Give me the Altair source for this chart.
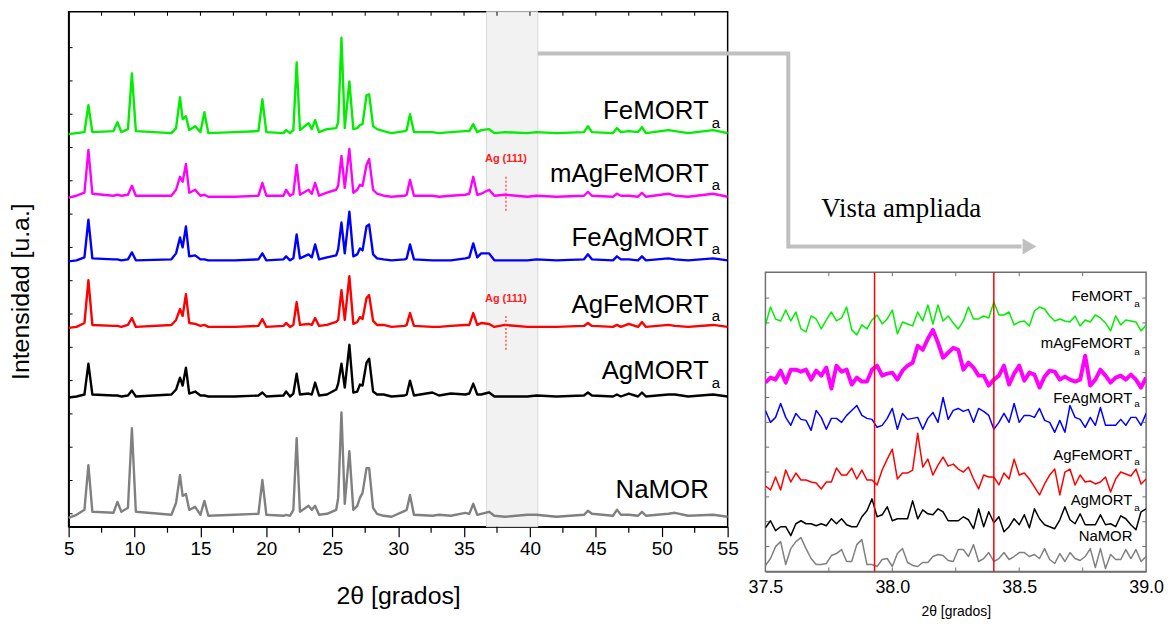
import altair as alt
import pandas as pd

FONT = "Liberation Sans"
SERIF = "Liberation Serif"

# ---------------- main panel data (2theta key points, heights above each trace's offset) ----
X_MAIN = [5.0, 5.6, 6.2, 6.5, 6.8, 8.4, 8.7, 9.0, 9.5, 9.8,
          10.1, 12.8, 13.15, 13.45, 13.65, 13.9, 14.15, 14.6, 15.0, 15.3,
          15.6, 17.6, 19.4, 19.7, 20.0, 21.3, 21.5, 21.8, 22.05, 22.3,
          22.55, 23.2, 23.45, 23.7, 24.0, 24.6, 25.3, 25.45, 25.7, 25.95,
          26.3, 26.6, 26.9, 27.1, 27.3, 27.6, 27.8, 28.1, 28.4, 28.9,
          29.5, 30.5, 30.65, 30.9, 31.2, 32.6, 33.1, 34.0, 35.1, 35.4,
          35.7, 36.0, 36.3, 36.9, 37.3, 38.1, 39.8, 40.5, 42.0, 44.1,
          44.4, 44.7, 46.3, 46.6, 46.9, 47.5, 48.2, 48.5, 48.8, 50.5,
          51.0, 52.0, 53.9, 55.0]

H_FEMORT = [0, 1, 2, 29, 2, 3, 12, 2, 5, 61,
            3, 1, 6, 37, 15, 18, 4, 8, 2, 22,
            1, 2, 3, 35, 2, 1, 4, 1, 4, 72,
            4, 11, 5, 14, 2, 5, 6, 12, 97, 6,
            53, 5, 6, 9, 10, 39, 40, 8, 5, 3,
            1, 3, 4, 20, 2, 2, 1, 2, 3, 3,
            10, 2, 4, 5, 1, 2, 1, 2, 1, 2,
            8, 2, 1, 6, 2, 3, 2, 7, 1, 4,
            3, 1, 4, 1]
H_MAGFEMORT = [0, 2, 5, 48, 4, 2, 3, 2, 3, 12,
               2, 2, 8, 21, 16, 34, 5, 8, 2, 3,
               1, 1, 2, 15, 2, 2, 8, 2, 4, 33,
               3, 8, 4, 15, 2, 5, 8, 12, 42, 10,
               49, 5, 8, 13, 12, 33, 39, 8, 4, 2,
               1, 2, 3, 18, 2, 2, 1, 2, 3, 4,
               21, 3, 4, 8, 2, 3, 1, 2, 1, 2,
               6, 2, 1, 4, 2, 2, 1, 5, 1, 4,
               2, 1, 4, 1]
H_FEAGMORT = [0, 1, 4, 42, 3, 2, 2, 1, 2, 9,
              1, 2, 8, 24, 14, 35, 5, 6, 2, 2,
              1, 1, 2, 8, 1, 2, 5, 1, 3, 27,
              3, 7, 4, 17, 2, 4, 6, 12, 39, 8,
              50, 5, 7, 13, 11, 35, 37, 7, 3, 2,
              1, 2, 3, 17, 2, 1, 1, 1, 3, 4,
              18, 4, 8, 8, 1, 1, 1, 2, 1, 2,
              7, 2, 1, 5, 2, 2, 1, 5, 1, 3,
              2, 1, 3, 1]
H_AGFEMORT = [0, 1, 5, 48, 3, 2, 2, 1, 3, 10,
              1, 3, 8, 19, 12, 34, 5, 4, 2, 3,
              1, 1, 2, 9, 1, 2, 5, 1, 3, 26,
              3, 4, 3, 10, 2, 3, 6, 8, 38, 8,
              52, 4, 6, 11, 9, 30, 33, 7, 3, 3,
              1, 2, 3, 15, 2, 1, 1, 2, 3, 3,
              15, 3, 5, 4, 1, 3, 1, 1, 1, 2,
              5, 2, 1, 3, 1, 4, 1, 6, 1, 3,
              2, 1, 3, 1]
H_AGMORT = [0, 1, 3, 34, 3, 2, 2, 1, 2, 7,
            1, 3, 8, 20, 12, 30, 4, 6, 2, 2,
            1, 1, 2, 5, 1, 2, 6, 1, 4, 24,
            3, 4, 3, 15, 2, 3, 8, 14, 34, 10,
            53, 5, 6, 13, 12, 35, 39, 6, 3, 3,
            1, 2, 3, 17, 2, 5, 2, 4, 3, 4,
            14, 3, 3, 5, 1, 1, 1, 2, 1, 2,
            5, 2, 1, 3, 1, 4, 1, 5, 1, 3,
            3, 1, 3, 1]
H_NAMOR = [0, 3, 8, 53, 6, 5, 16, 6, 10, 90,
           6, 3, 15, 43, 22, 24, 8, 11, 3, 17,
           2, 3, 4, 38, 3, 2, 3, 2, 8, 80,
           6, 12, 8, 12, 3, 4, 8, 20, 106, 14,
           67, 8, 12, 20, 25, 50, 50, 10, 4, 2,
           1, 7, 8, 23, 3, 2, 3, 2, 5, 4,
           14, 3, 4, 6, 2, 1, 3, 3, 1, 3,
           7, 4, 2, 8, 3, 3, 2, 6, 2, 4,
           5, 2, 3, 1]

SERIES = ["NaMOR", "AgMORTa", "AgFeMORTa", "FeAgMORTa", "mAgFeMORTa", "FeMORTa"]
OFFSETS = [9, 130, 200, 267, 331, 395]
COLORS = ["#808080", "#000000", "#ff0000", "#0000ff", "#ff00ff", "#00ee00"]
MAIN_HEIGHTS = [H_NAMOR, H_AGMORT, H_AGFEMORT, H_FEAGMORT, H_MAGFEMORT, H_FEMORT]

LABELS = ["NaMOR", "AgMORT", "AgFeMORT", "FeAgMORT", "mAgFeMORT", "FeMORT"]
SUBS = ["", "a", "a", "a", "a", "a"]
LABEL_Y = [29, 149, 215, 282, 347, 410]
SUB_Y = [0, 140, 207, 274, 339, 401]

BAND = [36.7, 40.6]
AG_X = 38.18
AG_TEXT_Y = [370, 229]
AG_LINE = [(318, 353), (178, 213)]

# ---------------- inset data (zoom 37.5 - 39.0) ----------------
X_INSET = [37.50, 37.52, 37.54, 37.56, 37.58, 37.60, 37.62, 37.64, 37.66, 37.68,
           37.70, 37.72, 37.74, 37.76, 37.78, 37.80, 37.82, 37.84, 37.86, 37.88,
           37.90, 37.92, 37.94, 37.96, 37.98, 38.00, 38.02, 38.04, 38.06, 38.08,
           38.10, 38.12, 38.14, 38.16, 38.18, 38.20, 38.22, 38.24, 38.26, 38.28,
           38.30, 38.32, 38.34, 38.36, 38.38, 38.40, 38.42, 38.44, 38.46, 38.48,
           38.50, 38.52, 38.54, 38.56, 38.58, 38.60, 38.62, 38.64, 38.66, 38.68,
           38.70, 38.72, 38.74, 38.76, 38.78, 38.80, 38.82, 38.84, 38.86, 38.88,
           38.90, 38.92, 38.94, 38.96, 38.98, 39.00]
I_FEMORT = [248, 266, 254, 252, 263, 252, 261, 244, 241, 257, 254, 244, 253, 261, 252, 255, 266, 243, 238,
            248, 244, 253, 258, 249, 254, 263, 239, 251, 249, 247, 261, 252, 268, 249, 268, 252, 257,
            250, 244, 252, 266, 254, 254, 257, 255, 271, 258, 258, 261, 248, 251, 252, 247, 262, 266, 264,
            257, 252, 254, 252, 251, 257, 247, 253, 251, 258, 255, 250, 242, 257, 248, 253, 252, 251, 242, 248]
I_MAGFEMORT = [190, 195, 193, 202, 190, 203, 203, 201, 203, 193, 202, 197, 205, 184, 207, 201, 203, 188, 195,
               191, 191, 203, 207, 197, 199, 200, 193, 202, 207, 210, 227, 223, 234, 243, 230, 215, 220,
               225, 223, 203, 210, 205, 197, 197, 187, 193, 197, 207, 188, 199, 207, 192, 200, 198, 185, 196,
               202, 201, 193, 196, 193, 191, 193, 217, 187, 193, 203, 197, 190, 195, 197, 193, 198, 193, 185, 195]
I_FEAGMORT = [162, 150, 155, 169, 155, 147, 159, 153, 152, 142, 162, 155, 143, 154, 154, 150, 157, 162, 167,
              157, 154, 153, 145, 147, 154, 164, 143, 159, 153, 154, 155, 143, 154, 160, 150, 175, 153,
              162, 164, 161, 163, 150, 164, 161, 157, 143, 150, 159, 150, 169, 150, 157, 157, 155, 164, 152,
              150, 140, 152, 140, 167, 155, 153, 145, 155, 147, 165, 147, 147, 147, 153, 147, 155, 155, 147, 159]
I_AGFEMORT = [86, 82, 95, 82, 102, 90, 99, 92, 92, 90, 89, 83, 90, 90, 104, 97, 97, 104, 93,
              102, 92, 92, 87, 102, 113, 123, 93, 99, 99, 102, 139, 105, 113, 97, 107, 115, 106,
              108, 103, 100, 105, 93, 83, 97, 95, 95, 87, 99, 93, 113, 97, 99, 93, 85, 77, 88,
              97, 103, 77, 100, 103, 87, 97, 90, 91, 88, 90, 95, 80, 93, 100, 98, 96, 103, 88, 93]
I_AGMORT = [44, 51, 41, 45, 45, 36, 48, 51, 48, 48, 46, 48, 46, 53, 48, 53, 47, 45, 45,
            55, 61, 73, 55, 57, 65, 51, 53, 53, 53, 71, 53, 62, 58, 57, 63, 60, 51,
            51, 51, 55, 52, 43, 63, 45, 60, 49, 55, 40, 45, 53, 47, 57, 44, 63, 53, 47,
            45, 43, 52, 65, 52, 48, 58, 47, 47, 47, 57, 47, 48, 45, 56, 53, 47, 42, 60, 63]
I_NAMOR = [6, 13, 25, 30, 7, 23, 30, 34, 23, 13, 7, 7, 8, 16, 18, 22, 10, 10, 27,
           32, 7, 7, 5, 12, 13, 5, 18, 23, 9, 6, 5, 9, 9, 15, 17, 16, 11,
           10, 22, 22, 15, 27, 10, 13, 19, 10, 13, 19, 12, 15, 19, 19, 15, 17, 13, 23,
           12, 8, 18, 10, 19, 13, 11, 15, 23, 4, 23, 3, 17, 12, 12, 22, 13, 22, 10, 15]
INSET_VALUES = [I_NAMOR, I_AGMORT, I_AGFEMORT, I_FEAGMORT, I_MAGFEMORT, I_FEMORT]
THICK_SERIES = "mAgFeMORTa"
INSET_LABEL_Y = [31, 67, 112, 169, 225, 272]
INSET_SUB_Y = [0, 61, 107, 165, 218, 266]
AG_MARKERS = [37.93, 38.40]

# ---------------- build tables ----------------
main_rows = []
for name, off, hs in zip(SERIES, OFFSETS, MAIN_HEIGHTS):
    for x, h in zip(X_MAIN, hs):
        main_rows.append({"x": x, "y": off + h, "s": name})
main_df = pd.DataFrame(main_rows)

inset_rows = []
for name, vals in zip(SERIES, INSET_VALUES):
    for x, v in zip(X_INSET, vals):
        inset_rows.append({"x": x, "y": v, "s": name})
inset_df = pd.DataFrame(inset_rows)

color_scale = alt.Scale(domain=SERIES, range=COLORS)

# ---------------- main panel ----------------
xs = alt.Scale(domain=[5, 55], nice=False, zero=False)
ys = alt.Scale(domain=[0, 518], nice=False, zero=False)
x_axis = alt.Axis(values=list(range(5, 56, 5)), labelFont=FONT, labelFontSize=19, labelColor="black",
                  labelFlush=False, labelPadding=3, tickSize=10, tickColor="black", tickWidth=1.2,
                  domainColor="black", domainWidth=1.5, grid=False,
                  title="2θ [grados]", titleFont=FONT, titleFontSize=25, titleFontWeight="normal",
                  titleColor="black", titlePadding=25)
y_axis = alt.Axis(labels=False, ticks=False, grid=False, domainColor="black", domainWidth=1.5,
                  title="Intensidad [u.a.]", titleFont=FONT, titleFontSize=25, titleFontWeight="normal",
                  titleColor="black", titlePadding=35, titleY=281)

def X(field="x"):
    return alt.X(f"{field}:Q", scale=xs, axis=x_axis)

def Y(field="y"):
    return alt.Y(f"{field}:Q", scale=ys, axis=y_axis)

band = alt.Chart(pd.DataFrame({"x": [BAND[0]], "x2": [BAND[1]], "y": [0], "y2": [518]})).mark_rect(
    fill="#f2f2f2", stroke="#d9d9d9", strokeWidth=1).encode(x=X(), x2="x2:Q", y=Y(), y2="y2:Q")

traces = alt.Chart(main_df).mark_line(strokeWidth=2.4, strokeJoin="round").encode(
    x=X(), y=Y(),
    color=alt.Color("s:N", scale=color_scale, legend=None),
    detail="s:N")

ag_text = alt.Chart(pd.DataFrame({"x": [AG_X, AG_X], "y": AG_TEXT_Y, "t": ["Ag (111)", "Ag (111)"]})).mark_text(
    font=FONT, fontSize=11, fontWeight="bold", color="#ff2020", align="center", baseline="middle").encode(
    x=X(), y=Y(), text="t:N")
ag_lines = alt.Chart(pd.DataFrame({"x": [AG_X, AG_X], "y": [a for a, b in AG_LINE], "y2": [b for a, b in AG_LINE]})).mark_rule(
    color="#ff3030", strokeWidth=1.2, strokeDash=[2, 2]).encode(x=X(), y=Y(), y2="y2:Q")

lab_df = pd.DataFrame({"x": [53.57] * 6, "y": LABEL_Y, "t": LABELS})
labels = alt.Chart(lab_df).mark_text(font=FONT, fontSize=26, color="black", align="right",
                                     baseline="alphabetic").encode(x=X(), y=Y(), text="t:N")
sub_df = pd.DataFrame({"x": [53.8] * 5, "y": SUB_Y[1:], "t": SUBS[1:]})
subs = alt.Chart(sub_df).mark_text(font=FONT, fontSize=15, color="black", align="left",
                                   baseline="alphabetic").encode(x=X(), y=Y(), text="t:N")

minor_x = [7.5 + 5 * k for k in range(10)]
minor_ticks = alt.Chart(pd.DataFrame({"x": minor_x, "y": [0] * 10, "y2": [-6] * 10})).mark_rule(
    color="black", strokeWidth=1.2, clip=False).encode(x=X(), y=Y(), y2="y2:Q")
top_x = [7.5 + 2.5 * k for k in range(19)]
top_ticks = alt.Chart(pd.DataFrame({"x": top_x, "y": [518] * 19, "y2": [514] * 19})).mark_rule(
    color="black", strokeWidth=1).encode(x=X(), y=Y(), y2="y2:Q")
left_y = [482 - 33.5 * k for k in range(15)]
left_ticks = alt.Chart(pd.DataFrame({"x": [5] * 15, "x2": [5.3] * 15, "y": left_y})).mark_rule(
    color="black", strokeWidth=1).encode(x=X(), x2="x2:Q", y=Y())

conn = alt.Chart(pd.DataFrame({"x": [40.6, 59.6, 59.6, 77.3], "y": [476, 476, 282, 282], "o": [0, 1, 2, 3]})).mark_line(
    color="#c0c0c0", strokeWidth=4, clip=False, strokeJoin="miter").encode(x=X(), y=Y(), order="o:Q")
arrow = alt.Chart(pd.DataFrame({"x": [77.9], "y": [282]})).mark_point(
    shape="triangle-right", filled=True, color="#c0c0c0", size=260, opacity=1, clip=False).encode(x=X(), y=Y())
vista = alt.Chart(pd.DataFrame({"x": [62.1], "y": [312], "t": ["Vista ampliada"]})).mark_text(
    font=SERIF, fontSize=27, color="black", align="left", baseline="alphabetic").encode(x=X(), y=Y(), text="t:N")

main = alt.layer(band, traces, ag_lines, ag_text, labels, subs, minor_ticks, top_ticks, left_ticks,
                 conn, arrow, vista).properties(
    width=663, height=518, view=alt.ViewBackground(stroke="black", strokeWidth=1.5))

# ---------------- inset panel ----------------
xi = alt.Scale(domain=[37.5, 39.0], nice=False, zero=False)
yi = alt.Scale(domain=[0, 301], nice=False, zero=False)
FRAME = "#707070"
xi_axis = alt.Axis(values=[37.5, 38.0, 38.5, 39.0], format=".1f", labelFont=FONT, labelFontSize=18,
                   labelColor="black", labelFlush=False, labelPadding=7, tickSize=0,
                   domainColor=FRAME, domainWidth=1.5, grid=False,
                   title="2θ [grados]", titleFont=FONT, titleFontSize=14, titleFontWeight="normal",
                   titleColor="black", titlePadding=8)

def XI(field="x"):
    return alt.X(f"{field}:Q", scale=xi, axis=xi_axis)

def YI(field="y"):
    return alt.Y(f"{field}:Q", scale=yi, axis=None)

inset_thin = alt.Chart(inset_df).transform_filter(alt.datum.s != THICK_SERIES).mark_line(
    clip=True, strokeJoin="round", strokeWidth=1.5).encode(
    x=XI(), y=YI(),
    color=alt.Color("s:N", scale=color_scale, legend=None),
    detail="s:N")
inset_thick = alt.Chart(inset_df).transform_filter(alt.datum.s == THICK_SERIES).mark_line(
    clip=True, strokeJoin="round", strokeWidth=4).encode(
    x=XI(), y=YI(),
    color=alt.Color("s:N", scale=color_scale, legend=None))
markers = alt.Chart(pd.DataFrame({"x": AG_MARKERS})).mark_rule(color="red", strokeWidth=1.5).encode(x=XI())

il_df = pd.DataFrame({"x": [38.946] * 6, "y": INSET_LABEL_Y, "t": LABELS})
inset_labels = alt.Chart(il_df).mark_text(font=FONT, fontSize=15, color="black", align="right",
                                          baseline="alphabetic").encode(x=XI(), y=YI(), text="t:N")
is_df = pd.DataFrame({"x": [38.953] * 5, "y": INSET_SUB_Y[1:], "t": SUBS[1:]})
inset_subs = alt.Chart(is_df).mark_text(font=FONT, fontSize=10, color="black", align="left",
                                        baseline="alphabetic").encode(x=XI(), y=YI(), text="t:N")

it_x = [37.75, 38.0, 38.25, 38.5, 38.75]
inset_bt = alt.Chart(pd.DataFrame({"x": it_x, "y": [0] * 5, "y2": [4] * 5})).mark_rule(
    color=FRAME, strokeWidth=1).encode(x=XI(), y=YI(), y2="y2:Q")
inset_tt = alt.Chart(pd.DataFrame({"x": it_x, "y": [301] * 5, "y2": [297] * 5})).mark_rule(
    color=FRAME, strokeWidth=1).encode(x=XI(), y=YI(), y2="y2:Q")
il_y = [25 * k for k in range(1, 12)]
inset_lt = alt.Chart(pd.DataFrame({"x": [37.5] * 11, "x2": [37.515] * 11, "y": il_y})).mark_rule(
    color=FRAME, strokeWidth=1).encode(x=XI(), x2="x2:Q", y=YI())
inset_rt = alt.Chart(pd.DataFrame({"x": [38.985] * 11, "x2": [39.0] * 11, "y": il_y})).mark_rule(
    color=FRAME, strokeWidth=1).encode(x=XI(), x2="x2:Q", y=YI())

inset = alt.layer(inset_thin, inset_thick, markers, inset_labels, inset_subs,
                  inset_bt, inset_tt, inset_lt, inset_rt).properties(
    width=383, height=301, view=alt.ViewBackground(stroke=FRAME, strokeWidth=1.5))

spacer = alt.Chart(pd.DataFrame({"a": [0]})).mark_point(opacity=0).encode(
    x=alt.X("a:Q", axis=None), y=alt.Y("a:Q", axis=None)).properties(
    width=383, height=260, view=alt.ViewBackground(strokeWidth=0))

right = alt.vconcat(spacer, inset, spacing=0)

chart = alt.hconcat(main, right, spacing=38, bounds="flush").properties(
    padding={"left": 0, "top": 0, "right": 0, "bottom": 0},
    background="white",
).configure_view(strokeWidth=0)

chart.save("out.html", embed_options={"renderer": "svg", "actions": False})
